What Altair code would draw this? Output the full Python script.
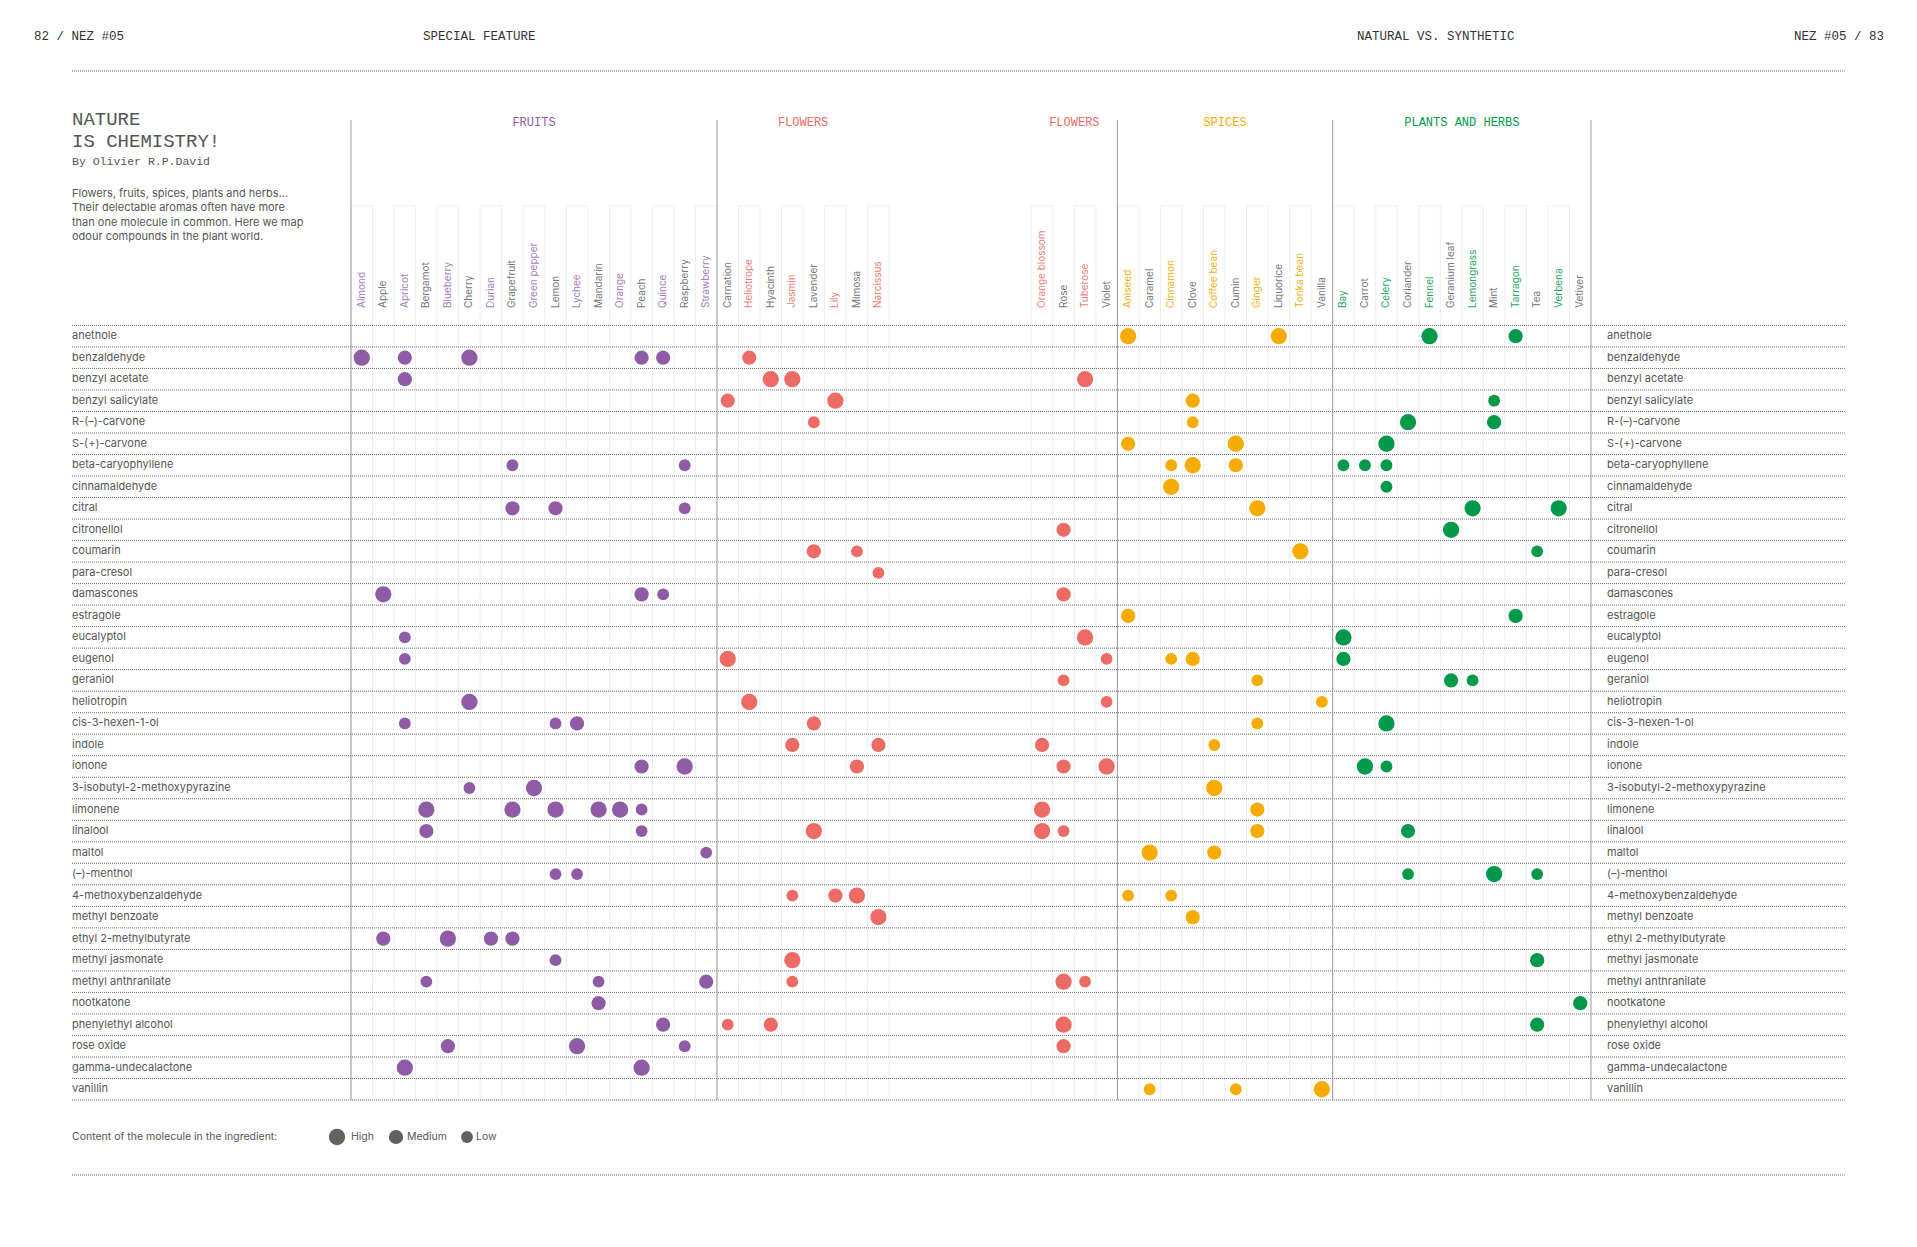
import altair as alt
import pandas as pd

# ---------------- data ----------------
FRUITS = ["Almond", "Apple", "Apricot", "Bergamot", "Blueberry", "Cherry", "Durian", "Grapefruit",
          "Green pepper", "Lemon", "Lychee", "Mandarin", "Orange", "Peach", "Quince", "Raspberry", "Strawberry"]
FLOWERS_L = ["Carnation", "Heliotrope", "Hyacinth", "Jasmin", "Lavender", "Lily", "Mimosa", "Narcissus"]
FLOWERS_R = ["Orange blossom", "Rose", "Tuberose", "Violet"]
SPICES = ["Aniseed", "Caramel", "Cinnamon", "Clove", "Coffee bean", "Cumin", "Ginger", "Liquorice",
          "Tonka bean", "Vanilla"]
PLANTS = ["Bay", "Carrot", "Celery", "Coriander", "Fennel", "Geranium leaf", "Lemongrass", "Mint",
          "Tarragon", "Tea", "Verbena", "Vetiver"]

MOLECULES = ["anethole", "benzaldehyde", "benzyl acetate", "benzyl salicylate", "R-(–)-carvone",
             "S-(+)-carvone", "beta-caryophyllene", "cinnamaldehyde", "citral", "citronellol", "coumarin",
             "para-cresol", "damascones", "estragole", "eucalyptol", "eugenol", "geraniol", "heliotropin",
             "cis-3-hexen-1-ol", "indole", "ionone", "3-isobutyl-2-methoxypyrazine", "limonene", "linalool",
             "maltol", "(–)-menthol", "4-methoxybenzaldehyde", "methyl benzoate", "ethyl 2-methylbutyrate",
             "methyl jasmonate", "methyl anthranilate", "nootkatone", "phenylethyl alcohol", "rose oxide",
             "gamma-undecalactone", "vanillin"]

# content of each molecule: (ingredient, level)  H = High, M = Medium, L = Low
CONTENT = [
    [("Aniseed", "H"), ("Liquorice", "H"), ("Fennel", "H"), ("Tarragon", "M")],
    [("Almond", "H"), ("Apricot", "M"), ("Cherry", "H"), ("Peach", "M"), ("Quince", "M"), ("Heliotrope", "M")],
    [("Apricot", "M"), ("Hyacinth", "H"), ("Jasmin", "H"), ("Tuberose", "H")],
    [("Carnation", "M"), ("Lily", "H"), ("Clove", "M"), ("Mint", "L")],
    [("Lavender", "L"), ("Clove", "L"), ("Coriander", "H"), ("Mint", "M")],
    [("Aniseed", "M"), ("Cumin", "H"), ("Celery", "H")],
    [("Grapefruit", "L"), ("Raspberry", "L"), ("Cinnamon", "L"), ("Clove", "H"), ("Cumin", "M"),
     ("Bay", "L"), ("Carrot", "L"), ("Celery", "L")],
    [("Cinnamon", "H"), ("Celery", "L")],
    [("Grapefruit", "M"), ("Lemon", "M"), ("Raspberry", "L"), ("Ginger", "H"), ("Lemongrass", "H"), ("Verbena", "H")],
    [("Rose", "M"), ("Geranium leaf", "H")],
    [("Lavender", "M"), ("Mimosa", "L"), ("Tonka bean", "H"), ("Tea", "L")],
    [("Narcissus", "L")],
    [("Apple", "H"), ("Peach", "M"), ("Quince", "L"), ("Rose", "M")],
    [("Aniseed", "M"), ("Tarragon", "M")],
    [("Apricot", "L"), ("Tuberose", "H"), ("Bay", "H")],
    [("Apricot", "L"), ("Carnation", "H"), ("Violet", "L"), ("Cinnamon", "L"), ("Clove", "M"), ("Bay", "M")],
    [("Rose", "L"), ("Ginger", "L"), ("Geranium leaf", "M"), ("Lemongrass", "L")],
    [("Cherry", "H"), ("Heliotrope", "H"), ("Violet", "L"), ("Vanilla", "L")],
    [("Apricot", "L"), ("Lemon", "L"), ("Lychee", "M"), ("Lavender", "M"), ("Ginger", "L"), ("Celery", "H")],
    [("Jasmin", "M"), ("Narcissus", "M"), ("Orange blossom", "M"), ("Coffee bean", "L")],
    [("Peach", "M"), ("Raspberry", "H"), ("Mimosa", "M"), ("Rose", "M"), ("Violet", "H"), ("Carrot", "H"), ("Celery", "L")],
    [("Cherry", "L"), ("Green pepper", "H"), ("Coffee bean", "H")],
    [("Bergamot", "H"), ("Grapefruit", "H"), ("Lemon", "H"), ("Mandarin", "H"), ("Orange", "H"), ("Peach", "L"),
     ("Orange blossom", "H"), ("Ginger", "M")],
    [("Bergamot", "M"), ("Peach", "L"), ("Lavender", "H"), ("Orange blossom", "H"), ("Rose", "L"), ("Ginger", "M"),
     ("Coriander", "M")],
    [("Strawberry", "L"), ("Caramel", "H"), ("Coffee bean", "M")],
    [("Lemon", "L"), ("Lychee", "L"), ("Coriander", "L"), ("Mint", "H"), ("Tea", "L")],
    [("Jasmin", "L"), ("Lily", "M"), ("Mimosa", "H"), ("Aniseed", "L"), ("Cinnamon", "L")],
    [("Narcissus", "H"), ("Clove", "M")],
    [("Apple", "M"), ("Blueberry", "H"), ("Durian", "M"), ("Grapefruit", "M")],
    [("Lemon", "L"), ("Jasmin", "H"), ("Tea", "M")],
    [("Bergamot", "L"), ("Mandarin", "L"), ("Strawberry", "M"), ("Jasmin", "L"), ("Rose", "H"), ("Tuberose", "L")],
    [("Mandarin", "M"), ("Vetiver", "M")],
    [("Quince", "M"), ("Carnation", "L"), ("Hyacinth", "M"), ("Rose", "H"), ("Tea", "M")],
    [("Blueberry", "M"), ("Lychee", "H"), ("Raspberry", "L"), ("Rose", "M")],
    [("Apricot", "H"), ("Peach", "H")],
    [("Caramel", "L"), ("Cumin", "L"), ("Vanilla", "H")],
]

LEVELS = ["High", "Medium", "Low"]
LEVEL_CODE = {"H": "High", "M": "Medium", "L": "Low"}
GROUPS = ["Fruits", "Flowers", "Spices", "Plants and herbs"]
SECTION_TITLES = ["FRUITS", "FLOWERS", "FLOWERS", "SPICES", "PLANTS AND HERBS"]

# ---------------- style ----------------
DOT_COLORS = ["#8F5BA6", "#EC6B64", "#F5AB00", "#00994A"]
LABEL_COLORS = ["#A47CC0", "#EE7D77", "#F5B020", "#24A65E"]
GREY_LABEL = "#767676"
SANS = "Inter"
MONO = "Liberation Mono"
TEXT = "#555555"

GAP = 6.6  # empty slots for the fold between the two pages

# ---------------- build tables ----------------
blocks = [(0, FRUITS), (1, FLOWERS_L), (1, FLOWERS_R), (2, SPICES), (3, PLANTS)]
col_rows = []
sections = []
k = 0
for bi, (gi, names) in enumerate(blocks):
    start = k + (GAP if bi >= 2 else 0)
    for j, n in enumerate(names):
        slot = k + (GAP if bi >= 2 else 0)
        capped = (k % 2 == 0) if bi < 2 else (k % 2 == 1)
        col_rows.append(dict(name=n, group=GROUPS[gi], x0=slot, x1=slot + 1, xc=slot + 0.5,
                             capped=capped, lc=LABEL_COLORS[gi] if capped else GREY_LABEL))
        k += 1
    end = k + (GAP if bi >= 2 else 0)
    sections.append(dict(title=SECTION_TITLES[bi], start=start, end=end, mid=(start + end) / 2,
                         color=DOT_COLORS[gi]))
cols = pd.DataFrame(col_rows)
TOTAL = cols["x1"].max()
col_index = {r["name"]: r for r in col_rows}

dots = []
for i, items in enumerate(CONTENT):
    for ing, lv in items:
        c = col_index[ing]
        dots.append(dict(molecule=MOLECULES[i], r=i + 0.5, ingredient=ing, level=LEVEL_CODE[lv],
                         xc=c["xc"], group=c["group"]))
dots = pd.DataFrame(dots)

rows = pd.DataFrame(dict(molecule=MOLECULES, r=[i + 0.5 for i in range(len(MOLECULES))]))
bounds = pd.DataFrame(dict(b=list(range(len(MOLECULES) + 1))))
sec_df = pd.DataFrame(sections)
sec_lines = pd.DataFrame(dict(s=[sections[0]["start"], sections[1]["start"], sections[2]["end"],
                                 sections[3]["end"], sections[4]["end"]]))

# ---------------- scales ----------------
xs = alt.Scale(domain=[0, TOTAL], range=[343, 1583], nice=False, zero=False)
ys = alt.Scale(domain=[0, len(MOLECULES)], range=[317.4, 1092], nice=False, zero=False)
size_scale = alt.Scale(domain=LEVELS, range=[265, 140, 42])
color_scale = alt.Scale(domain=GROUPS, range=DOT_COLORS)

ONE = pd.DataFrame({"a": [0]})


def txt(text, x, y, size=11, color=TEXT, font=SANS, align="left", baseline="alphabetic", weight="normal"):
    return alt.Chart(ONE).mark_text(text=text, align=align, baseline=baseline, fontSize=size, font=font,
                                    color=color, fontWeight=weight).encode(x=alt.value(x), y=alt.value(y))


def hline(y, color="#666666"):
    return alt.Chart(ONE).mark_rule(color=color, strokeDash=[1, 1], strokeWidth=1).encode(
        x=alt.value(64), x2=alt.value(1837), y=alt.value(y))


bands = alt.Chart(cols[cols["capped"]]).mark_rect(fillOpacity=0, stroke="#ededed", strokeWidth=1).encode(
    x=alt.X("x0:Q", scale=xs, axis=None), x2="x1:Q", y=alt.value(198), y2=alt.value(1092))

row_lines = alt.Chart(bounds).mark_rule(color="#6a6a6a", strokeDash=[1, 1], strokeWidth=1).encode(
    y=alt.Y("b:Q", scale=ys, axis=None), x=alt.value(64), x2=alt.value(1837))

section_rules = alt.Chart(sec_lines).mark_rule(color="#9a9a9a", strokeWidth=1).encode(
    x=alt.X("s:Q", scale=xs, axis=None), y=alt.value(112), y2=alt.value(1092))

section_titles = alt.Chart(sec_df).mark_text(font=MONO, fontSize=12, baseline="middle", align="center").encode(
    x=alt.X("mid:Q", scale=xs, axis=None), y=alt.value(114), text="title:N",
    color=alt.Color("color:N", scale=None))

col_labels = alt.Chart(cols).mark_text(angle=270, align="left", baseline="middle", fontSize=10, font=SANS).encode(
    x=alt.X("xc:Q", scale=xs, axis=None), y=alt.value(300), text="name:N",
    color=alt.Color("lc:N", scale=None))

row_labels_l = alt.Chart(rows).mark_text(align="left", baseline="middle", fontSize=11, font=SANS, color=TEXT).encode(
    y=alt.Y("r:Q", scale=ys, axis=None), x=alt.value(64), text="molecule:N")
row_labels_r = alt.Chart(rows).mark_text(align="left", baseline="middle", fontSize=11, font=SANS, color=TEXT).encode(
    y=alt.Y("r:Q", scale=ys, axis=None), x=alt.value(1599), text="molecule:N")

points = alt.Chart(dots).mark_circle(opacity=1).encode(
    x=alt.X("xc:Q", scale=xs, axis=None),
    y=alt.Y("r:Q", scale=ys, axis=None),
    size=alt.Size("level:N", scale=size_scale, legend=None),
    color=alt.Color("group:N", scale=color_scale, legend=None),
    tooltip=["molecule", "ingredient", "level"])

legend_df = pd.DataFrame(dict(level=LEVELS))
legend_dots = [
    alt.Chart(legend_df[legend_df["level"] == lv]).mark_circle(opacity=1, color="#5f625f").encode(
        x=alt.value(px), y=alt.value(1129), size=alt.Size("level:N", scale=size_scale, legend=None))
    for lv, px in zip(LEVELS, [329, 388, 459])
]
legend_txt = [txt(lv, tx, 1129, size=10.5, baseline="middle") for lv, tx in zip(LEVELS, [343, 399, 468])]

decor = [
    txt("82 / NEZ #05", 26, 28, size=12.5, font=MONO, baseline="middle", color="#333333"),
    txt("SPECIAL FEATURE", 415, 28, size=12.5, font=MONO, baseline="middle", color="#333333"),
    txt("NATURAL VS. SYNTHETIC", 1349, 28, size=12.5, font=MONO, baseline="middle", color="#333333"),
    txt("NEZ #05 / 83", 1876, 28, size=12.5, font=MONO, baseline="middle", color="#333333", align="right"),
    hline(63), hline(1167),
    txt("NATURE", 64, 117, size=19, font=MONO, color="#555555"),
    txt("IS CHEMISTRY!", 64, 139, size=19, font=MONO, color="#555555"),
    txt("By Olivier R.P.David", 64, 157, size=11.5, font=MONO, color="#555555"),
    txt("Flowers, fruits, spices, plants and herbs...", 64, 186, size=11, baseline="middle"),
    txt("Their delectable aromas often have more", 64, 200, size=11, baseline="middle"),
    txt("than one molecule in common. Here we map", 64, 215, size=11, baseline="middle"),
    txt("odour compounds in the plant world.", 64, 229, size=11, baseline="middle"),
    txt("Content of the molecule in the ingredient:", 64, 1129, size=10.5, baseline="middle"),
]

chart = alt.layer(
    bands, row_lines, section_rules, section_titles, col_labels, row_labels_l, row_labels_r,
    *decor, *legend_dots, *legend_txt, points
).properties(width=1890, height=1200, padding=0, autosize=alt.AutoSizeParams(type="none")
).configure_view(stroke=None)

chart.save("out.html", embed_options={"renderer": "svg", "actions": False})
